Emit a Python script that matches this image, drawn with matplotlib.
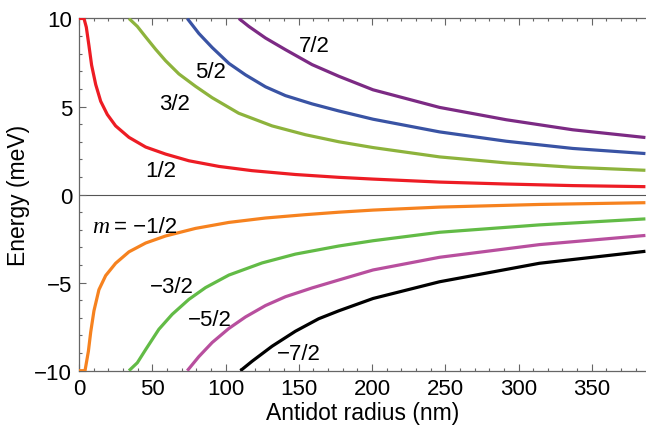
import matplotlib.pyplot as plt
from matplotlib.ticker import MultipleLocator

plt.rcParams['font.family'] = ['Liberation Sans', 'DejaVu Sans']

# 曲线数据
x_p1 = [0, 3.4, 5, 6.8, 8.6, 11.4, 14.8, 19.3, 25, 34.1, 45.5, 59.1, 75, 95.5, 118, 147.7,
        177.3, 200.7, 246.1, 291.6, 337, 386.6]
y_p1 = [10, 10, 9.5, 8.45, 7.35, 6.25, 5.3, 4.55, 3.9, 3.25, 2.7, 2.3, 1.92, 1.6, 1.36, 1.14,
        0.98, 0.88, 0.71, 0.60, 0.51, 0.45]

x_p3 = [34.1, 39.8, 45.5, 52.3, 59.1, 68.2, 79.5, 90.9, 109, 131.8, 154.5, 177.3, 200.7, 246.1,
        291.6, 337, 386.6]
y_p3 = [10, 9.55, 8.95, 8.25, 7.6, 6.85, 6.15, 5.5, 4.62, 3.9, 3.4, 3.0, 2.67, 2.14,
        1.80, 1.55, 1.38]

x_p5 = [73.9, 81.8, 90.9, 102.3, 113.6, 127.3, 140.9, 159.1, 177.3, 200.7, 246.1, 291.6, 337, 386.6]
y_p5 = [10, 9.15, 8.35, 7.45, 6.8, 6.12, 5.62, 5.15, 4.75, 4.28, 3.56, 3.03, 2.62, 2.33]

x_p7 = [109.1, 115.9, 127.3, 140.9, 159.1, 177.3, 200.7, 246.1, 291.6, 337, 386.6]
y_p7 = [10, 9.55, 8.89, 8.23, 7.38, 6.72, 5.95, 4.95, 4.25, 3.68, 3.24]

x_m1 = [0, 4.1, 6.4, 8, 10.2, 13.6, 18.2, 25, 34.1, 45.5, 59.1, 79.5, 102.3, 127.3, 154.5, 177.3,
        200.7, 246.1, 314.3, 386.6]
y_m1 = [-10, -10, -8.9, -7.8, -6.6, -5.4, -4.6, -3.9, -3.25, -2.75, -2.35, -1.92, -1.58, -1.33,
        -1.14, -1.0, -0.88, -0.71, -0.56, -0.46]

x_m3 = [34.1, 39.8, 45.5, 54.5, 63.6, 75, 86.4, 102.3, 125, 147.7, 177.3, 200.7, 246.1, 314.3, 386.6]
y_m3 = [-10, -9.55, -8.8, -7.65, -6.8, -5.95, -5.28, -4.57, -3.88, -3.38, -2.92, -2.62, -2.14, -1.72, -1.38]

x_m5 = [73.9, 81.8, 90.9, 102.3, 113.6, 127.3, 140.9, 159.1, 177.3, 200.7, 246.1, 314.3, 386.6]
y_m5 = [-10, -9.2, -8.4, -7.6, -6.95, -6.3, -5.8, -5.3, -4.85, -4.28, -3.56, -2.84, -2.32]

x_m7 = [110.2, 118.2, 131.8, 147.7, 163.6, 177.3, 200.7, 246.1, 314.3, 386.6]
y_m7 = [-10, -9.46, -8.61, -7.76, -7.05, -6.6, -5.9, -4.95, -3.9, -3.22]

curves = [
    (x_p1, y_p1, '#ed1c24'),
    (x_p3, y_p3, '#8db33c'),
    (x_p5, y_p5, '#3953a4'),
    (x_p7, y_p7, '#7c2a84'),
    (x_m1, y_m1, '#f6821f'),
    (x_m3, y_m3, '#62bb46'),
    (x_m5, y_m5, '#b84f9e'),
    (x_m7, y_m7, '#000000'),
]

# 曲线标签
labels = ['1/2', '3/2', '5/2', '7/2', '\u22123/2', '\u22125/2', '\u22127/2']
label_x = [56.1, 65.5, 89.5, 160.7, 63.5, 89.0, 150.0]
label_y = [1.38, 5.15, 7.0, 8.47, -5.2, -7.12, -9.04]

fig = plt.figure(figsize=(6.46, 4.31), dpi=100)
ax = fig.add_axes([0.1223, 0.1376, 0.8777, 0.8172])

ax.axhline(0, color='#555555', lw=0.8, zorder=1)
for xs, ys, c in curves:
    ax.plot(xs, ys, color=c, lw=2.3, solid_joinstyle='round', solid_capstyle='butt', zorder=3)

for t, lx, ly in zip(labels, label_x, label_y):
    ax.text(lx, ly, t, fontsize=16, ha='center', va='center', zorder=4)

# m = -1/2 标签
ax.text(20.5, -1.8, 'm', fontsize=17, style='italic', ha='right', va='center',
        family=['Liberation Serif', 'DejaVu Serif'])
ax.text(23.6, -1.8, '= \u22121/2', fontsize=16, ha='left', va='center')

ax.set_xlim(0, 387)
ax.set_ylim(-10, 10)
ax.xaxis.set_major_locator(MultipleLocator(50))
ax.xaxis.set_minor_locator(MultipleLocator(10))
ax.yaxis.set_major_locator(MultipleLocator(5))
ax.yaxis.set_minor_locator(MultipleLocator(1))
ax.tick_params(which='both', direction='in', top=True, right=False, color='#666666',
               labelsize=16, width=0.8)
ax.tick_params(which='major', length=5, pad=5)
ax.tick_params(which='minor', length=2.5)
for s in ['left', 'bottom', 'top']:
    ax.spines[s].set_color('#666666')
    ax.spines[s].set_linewidth(0.9)
ax.spines['right'].set_visible(False)

ax.set_xlabel('Antidot radius (nm)', fontsize=16.5, labelpad=2)
ax.set_ylabel('Energy (meV)', fontsize=16.5, labelpad=3)

fig.savefig('out.png', dpi=100)
